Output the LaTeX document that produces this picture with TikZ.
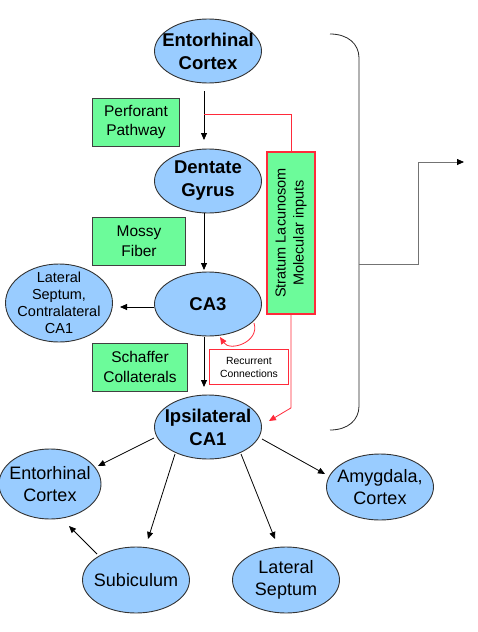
\documentclass[tikz,border=0pt]{standalone}
\usepackage{fontspec}
\setmainfont{Liberation Sans}
\usetikzlibrary{shapes.geometric,arrows.meta,calc}
\definecolor{ellfill}{HTML}{99CCFF}
\definecolor{boxfill}{HTML}{6CFB9A}
\definecolor{redln}{HTML}{FF2A3A}
\begin{document}
\begin{tikzpicture}[x=1pt,y=-1pt,
  ell/.style={ellipse, draw=black!80, fill=ellfill, line width=0.9pt, minimum width=107pt, minimum height=64pt, inner sep=0pt},
  ltxt/.style={align=center, inner sep=0pt, font=\fontsize{18}{22}\selectfont},
  btxt/.style={align=center, inner sep=0pt, font=\bfseries\fontsize{18.5}{23}\selectfont},
  gbox/.style={draw=black!75, fill=boxfill, line width=0.9pt, inner sep=0pt, align=center, font=\fontsize{15.5}{19.5}\selectfont},
  arr/.style={-{Triangle[length=7pt,width=6pt]}, line width=0.8pt},
  rarr/.style={-{Triangle[length=7pt,width=6pt]}, line width=0.8pt, draw=redln},
]
\useasboundingbox (0,0) rectangle (478,632);

% top column
\node[ell, label={[btxt]center:{Entorhinal\\Cortex}}] (ec) at (208,51) {};
\node[ell, label={[btxt]center:{Dentate\\Gyrus}}] (dg) at (208,181) {};
\node[ell, label={[btxt]center:{CA3}}] (ca3) at (208,304) {};
\node[ell, label={[btxt]center:{Ipsilateral\\CA1}}] (ca1) at (208,427) {};
\node[ell, minimum height=78pt, label={[ltxt, font=\fontsize{14.5}{17}\selectfont]center:{Lateral\\Septum,\\Contralateral\\CA1}}] (lsc) at (59,303) {};

% green boxes
\node[gbox, minimum width=87pt, minimum height=48pt] (pp) at (136,122) {Perforant\\Pathway};
\node[gbox, minimum width=93pt, minimum height=48pt] (mf) at (139,241) {Mossy\\Fiber};
\node[gbox, minimum width=95pt, minimum height=48pt] (sc) at (140,367) {Schaffer\\Collaterals};
\node[gbox, draw=redln, line width=1.8pt, minimum width=48pt, minimum height=162pt] (sl) at (291,233) {};
\node[rotate=90, align=center, inner sep=0pt, font=\fontsize{14.5}{18}\selectfont] (slt) at (sl.center) {Stratum Lacunosom\\Molecular inputs};
\node[draw=redln, fill=white, line width=1.4pt, minimum width=79pt, minimum height=35pt, inner sep=0pt, align=center, font=\fontsize{10.4}{13}\selectfont] (rc) at (249,367) {Recurrent\\Connections};

% bottom nodes
\node[ell, minimum width=102pt, minimum height=70pt, label={[ltxt]center:{Entorhinal\\Cortex}}] (ec2) at (50,484) {};
\node[ell, minimum height=66pt, label={[ltxt]center:{Amygdala,\\Cortex}}] (amy) at (380,487) {};
\node[ell, minimum height=66pt, label={[ltxt]center:{Subiculum}}] (sub) at (136,580) {};
\node[ell, minimum height=66pt, label={[ltxt]center:{Lateral\\Septum}}] (ls2) at (286,580) {};

% main arrows
\draw[arr] ($(ec.center)+(-4,40)$) -- ($(dg.center)+(-4,-41)$);
\draw[arr] ($(dg.center)+(-4,32)$) -- ($(ca3.center)+(-4,-34)$);
\draw[arr] ($(ca3.center)+(-4,33)$) -- ($(ca1.center)+(-4,-40)$);
\draw[arr] ($(ca3.center)+(-54,3)$) -- ($(lsc.center)+(61,4)$);

% red connections
\coordinate (pj) at ($(ec.center)+(-4,63)$);
\draw[draw=redln, line width=0.8pt] (pj) -| (sl.north);
\draw[rarr] (sl.south) -- ++(0,93) -- ($(ca1.east)+(7,-6)$);
\draw[rarr] ($(ca3.center)+(46,19)$) .. controls ($(ca3.center)+(52,38)$) and ($(ca3.center)+(22,48)$) .. ($(ca3.center)+(12,33)$);

% CA1 outputs
\draw[arr] ($(ca1.center)+(-54,11)$) -- ($(ec2.center)+(48,-18)$);
\draw[arr] ($(ca1.center)+(-33,27)$) -- ($(sub.center)+(12,-41)$);
\draw[arr] ($(ca1.center)+(33,27)$) -- ($(ls2.center)+(-11,-41)$);
\draw[arr] ($(ca1.center)+(54,12)$) -- ($(amy.center)+(-55,-13)$);
\draw[arr] ($(sub.center)+(-39,-26)$) -- ($(ec2.center)+(19,42)$);

% bracket
\coordinate (bt) at (330,34);
\coordinate (bb) at (330,430);
\coordinate (bm) at (359,264);
\coordinate (bo) at (464,162);
\draw[line width=0.8pt, black!85] (bt) .. controls (348,34) and (359,44) .. (359,58) -- (359,406) .. controls (359,420) and (348,430) .. (bb);
\draw[line width=1pt, black!55] (bm) -- (418,264) -- (418,162) -- (458,162);
\draw[arr] (457,162) -- (bo);
\end{tikzpicture}
\end{document}
